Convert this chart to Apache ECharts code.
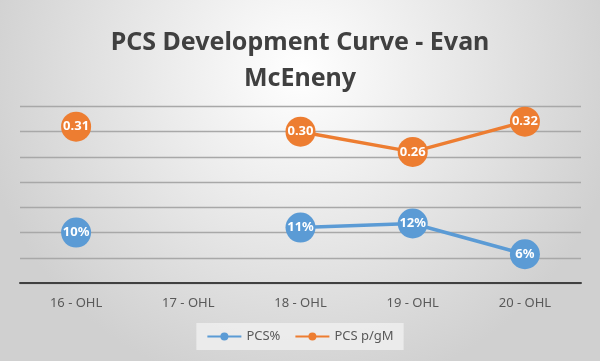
<!DOCTYPE html>
<html><head><meta charset="utf-8">
<script src="https://cdn.jsdelivr.net/npm/echarts@6/dist/echarts.min.js"></script>
<style>html,body{margin:0;padding:0;}#c{width:600px;height:361px;}</style>
</head><body><div id="c"></div>
<script>
const categories = ['16 - OHL', '17 - OHL', '18 - OHL', '19 - OHL', '20 - OHL'];
const pcsPct = [0.10, null, 0.11, 0.118, 0.057];
const pcsPerGM = [0.31, null, 0.30, 0.26, 0.32];
const pcsPctLabels = ['10%', '', '11%', '12%', '6%'];
const seriesNames = ['PCS%', 'PCS p/gM'];

const chart = echarts.init(document.getElementById('c'));
const labelBase = {show: true, position: 'inside', color: '#fff', fontWeight: 'bold', fontSize: 13, fontFamily: 'Noto Sans'};
chart.setOption({
  backgroundColor: {type: 'radial', x: 0.5, y: 0.2, r: 0.9, colorStops: [{offset: 0, color: '#ffffff'}, {offset: 1, color: '#d0d0d0'}]},
  title: {text: 'PCS Development Curve - Evan\nMcEneny', left: 'center', top: 20,
    textStyle: {fontFamily: 'Noto Sans', fontWeight: 'bold', fontSize: 25, color: '#404040', lineHeight: 36}},
  grid: {left: 20, right: 19, top: 106.5, bottom: 78},
  legend: {bottom: 11, left: 'center', itemWidth: 34, itemHeight: 10, itemGap: 14,
    backgroundColor: 'rgba(240,240,240,0.8)', padding: [7, 10],
    textStyle: {fontFamily: 'Noto Sans', fontSize: 13, color: '#595959'},
    data: seriesNames},
  xAxis: {type: 'category', data: categories, boundaryGap: true,
    axisLine: {lineStyle: {color: '#404040', width: 2}}, axisTick: {show: false},
    axisLabel: {fontFamily: 'Noto Sans', fontSize: 13, color: '#595959', margin: 14}},
  yAxis: {type: 'value', min: 0, max: 0.35, interval: 0.05, axisLabel: {show: false},
    axisLine: {show: false}, axisTick: {show: false},
    splitLine: {lineStyle: {color: '#a8a8a8', width: 1.3}}},
  series: [
    {name: seriesNames[0], type: 'line', data: pcsPct, symbol: 'circle', symbolSize: 30,
     itemStyle: {color: '#5B9BD5'}, lineStyle: {width: 3.5}, connectNulls: false,
     label: Object.assign({}, labelBase, {formatter: p => pcsPctLabels[p.dataIndex]})},
    {name: seriesNames[1], type: 'line', data: pcsPerGM, symbol: 'circle', symbolSize: 30,
     itemStyle: {color: '#ED7D31'}, lineStyle: {width: 3.5}, connectNulls: false,
     label: Object.assign({}, labelBase, {formatter: p => p.value.toFixed(2)})}
  ]
});
</script></body></html>
